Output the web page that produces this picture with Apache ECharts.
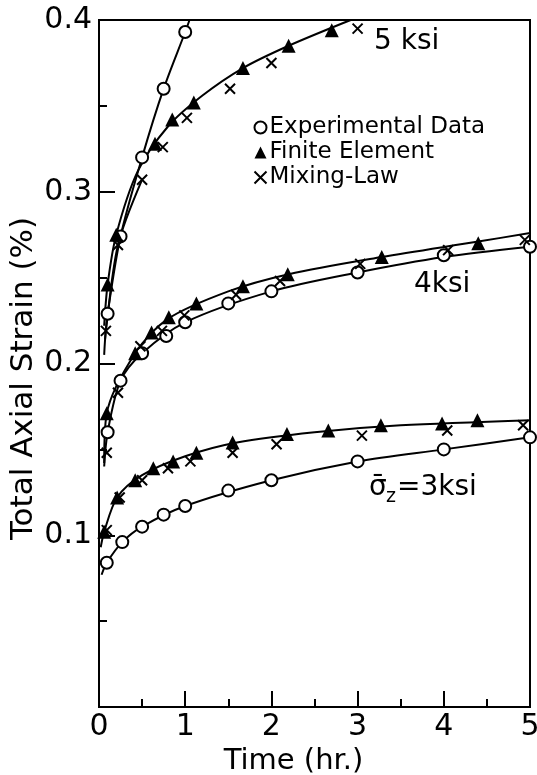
<!DOCTYPE html>
<html>
<head>
<meta charset="utf-8">
<script src="https://cdn.jsdelivr.net/npm/echarts@6/dist/echarts.min.js"></script>
<style>
  html, body { margin: 0; padding: 0; background: #fff; }
  #chart { width: 537px; height: 775px; }
</style>
</head>
<body>
<div id="chart"></div>
<script>
// time (hr.) / total axial strain (%) pairs
// 5 ksi
const exp5 = [[0.1, 0.229], [0.25, 0.274], [0.5, 0.320], [0.75, 0.360], [1.0, 0.393]];
const fe5 = [[0.1, 0.246], [0.2, 0.275], [0.65, 0.328], [0.85, 0.342], [1.1, 0.352], [1.67, 0.372], [2.2, 0.385], [2.7, 0.394]];
const ml5 = [[0.08, 0.219], [0.22, 0.269], [0.5, 0.307], [0.74, 0.326], [1.02, 0.343], [1.52, 0.360], [2.0, 0.375], [3.0, 0.395]];
// 4 ksi
const exp4 = [[0.1, 0.160], [0.25, 0.190], [0.5, 0.206], [0.78, 0.216], [1.0, 0.224], [1.5, 0.235], [2.0, 0.242], [3.0, 0.253], [4.0, 0.263], [5.0, 0.268]];
const fe4 = [[0.09, 0.171], [0.42, 0.206], [0.61, 0.218], [0.81, 0.227], [1.13, 0.235], [1.67, 0.245], [2.19, 0.252], [3.28, 0.262], [4.4, 0.270]];
const ml4 = [[0.09, 0.148], [0.22, 0.183], [0.48, 0.210], [0.73, 0.219], [0.99, 0.228], [1.59, 0.240], [2.1, 0.248], [3.03, 0.258], [4.05, 0.266], [4.94, 0.272]];
// 3 ksi
const exp3 = [[0.09, 0.084], [0.27, 0.096], [0.5, 0.105], [0.75, 0.112], [1.0, 0.117], [1.5, 0.126], [2.0, 0.132], [3.0, 0.143], [4.0, 0.150], [5.0, 0.157]];
const fe3 = [[0.06, 0.102], [0.21, 0.122], [0.42, 0.132], [0.63, 0.139], [0.86, 0.143], [1.13, 0.148], [1.55, 0.154], [2.18, 0.159], [2.66, 0.161], [3.27, 0.164], [3.98, 0.165], [4.39, 0.167]];
const ml3 = [[0.09, 0.103], [0.24, 0.122], [0.5, 0.132], [0.8, 0.139], [1.06, 0.143], [1.55, 0.148], [2.06, 0.153], [3.05, 0.158], [4.04, 0.161], [4.92, 0.164]];

// fitted curves (drawn lines)
const exp5Curve = [[0.07, 0.214], [0.1, 0.229], [0.25, 0.274], [0.5, 0.320], [0.75, 0.360], [1.0, 0.393], [1.05, 0.400]];
const fe5Curve = [[0.06, 0.222], [0.1, 0.246], [0.2, 0.275], [0.45, 0.312], [0.8, 0.338], [1.2, 0.356], [1.67, 0.372], [2.2, 0.385], [2.92, 0.400]];
const ml5Curve = [[0.06, 0.205], [0.08, 0.219], [0.22, 0.269], [0.5, 0.307]];
const exp4Curve = [[0.06, 0.140], [0.1, 0.160], [0.25, 0.190], [0.5, 0.206], [1.0, 0.224], [2.0, 0.242], [3.0, 0.253], [4.0, 0.262], [5.0, 0.268]];
const fe4Curve = [[0.06, 0.142], [0.09, 0.171], [0.42, 0.206], [0.8, 0.226], [1.5, 0.242], [2.2, 0.252], [3.28, 0.262], [4.4, 0.271], [5.0, 0.276]];
const exp3Curve = [[0.03, 0.077], [0.09, 0.084], [0.27, 0.096], [0.5, 0.105], [1.0, 0.117], [2.0, 0.132], [3.0, 0.143], [4.0, 0.150], [5.0, 0.157]];
const fe3Curve = [[0.02, 0.093], [0.06, 0.102], [0.21, 0.122], [0.5, 0.135], [1.0, 0.146], [1.6, 0.154], [2.5, 0.160], [3.5, 0.164], [5.0, 0.167]];

const xTicks = [0, 1, 2, 3, 4, 5];
const yTicks = [0.1, 0.2, 0.3, 0.4];

const FONT = 'DejaVu Sans';
const crossPath = 'path://M0,0L10,10M10,0L0,10';

function curve(pts) {
  return {
    type: 'line', data: pts,
    smooth: 0.3, showSymbol: false, silent: true,
    lineStyle: { color: '#000', width: 2 }, z: 2
  };
}
function marks(name, pts) {
  let s = { type: 'scatter', name: name, data: pts, z: 5 };
  if (name === 'Experimental Data') {
    s.symbol = 'circle'; s.symbolSize = 12;
    s.itemStyle = { color: '#fff', borderColor: '#000', borderWidth: 2, opacity: 1 };
  } else if (name === 'Finite Element') {
    s.symbol = 'triangle'; s.symbolSize = 14;
    s.itemStyle = { color: '#000', opacity: 1 };
  } else {
    s.symbol = crossPath; s.symbolSize = 10;
    s.itemStyle = { color: 'none', borderColor: '#000', borderWidth: 2, opacity: 1 };
  }
  return s;
}

let myChart = echarts.init(document.getElementById('chart'));
let option = {
  backgroundColor: '#fff',
  animation: false,
  grid: { left: 99, right: 7, top: 20, bottom: 68, containLabel: false, outerBoundsMode: 'none',
    show: true, borderColor: '#000', borderWidth: 2 },
  legend: {
    data: ['Experimental Data', 'Finite Element', 'Mixing-Law'],
    orient: 'vertical', left: 247, top: 111, itemGap: 2,
    itemWidth: 12, itemHeight: 12,
    textStyle: { fontFamily: FONT, fontSize: 23, color: '#000', padding: [0, 0, 0, -2] }
  },
  xAxis: {
    type: 'value', min: 0, max: 5, interval: 1,
    name: 'Time (hr.)', nameLocation: 'middle', nameGap: 38,
    nameTextStyle: { fontFamily: FONT, fontSize: 29, color: '#000', padding: [0, 42, 0, 0] },
    axisLine: { lineStyle: { color: '#000', width: 2 } },
    axisTick: { inside: true, length: 16, lineStyle: { color: '#000', width: 2 } },
    minorTick: { show: true, splitNumber: 2, length: 8, lineStyle: { color: '#000', width: 2 } },
    axisLabel: { fontFamily: FONT, fontSize: 30, color: '#000', margin: 5,
      customValues: xTicks, formatter: v => String(v) },
    splitLine: { show: false }
  },
  yAxis: {
    type: 'value', min: 0, max: 0.4, interval: 0.1,
    name: 'Total Axial Strain (%)', nameLocation: 'middle', nameGap: 60, nameMoveOverlap: false,
    nameTextStyle: { fontFamily: FONT, fontSize: 31, color: '#000', padding: [0, 30, 0, 0] },
    axisLine: { lineStyle: { color: '#000', width: 2 } },
    axisTick: { inside: true, length: 16, lineStyle: { color: '#000', width: 2 } },
    minorTick: { show: true, splitNumber: 2, length: 8, lineStyle: { color: '#000', width: 2 } },
    axisLabel: { fontFamily: FONT, fontSize: 30, color: '#000', margin: 7,
      formatter: v => (yTicks.some(t => Math.abs(t - v) < 1e-6) ? v.toFixed(1) : '') },
    splitLine: { show: false }
  },
  graphic: [
    { type: 'text', left: 374, top: 28, style: { text: '5 ksi', font: '28px "DejaVu Sans"', fill: '#000' } },
    { type: 'text', left: 414, top: 271, style: { text: '4ksi', font: '28px "DejaVu Sans"', fill: '#000' } },
    { type: 'text', left: 369, top: 474, style: { text: 'σ\u0304', font: '28px "DejaVu Sans"', fill: '#000' } },
    { type: 'text', left: 386, top: 488, style: { text: 'z', font: '19px "DejaVu Sans"', fill: '#000' } },
    { type: 'text', left: 397, top: 474, style: { text: '=3ksi', font: '28px "DejaVu Sans"', fill: '#000' } }
  ],
  series: [
    curve(exp5Curve), curve(fe5Curve), curve(ml5Curve),
    curve(exp4Curve), curve(fe4Curve),
    curve(exp3Curve), curve(fe3Curve),
    marks('Experimental Data', exp5), marks('Finite Element', fe5), marks('Mixing-Law', ml5),
    marks('Experimental Data', exp4), marks('Finite Element', fe4), marks('Mixing-Law', ml4),
    marks('Experimental Data', exp3), marks('Finite Element', fe3), marks('Mixing-Law', ml3)
  ]
};
myChart.setOption(option);
</script>
</body>
</html>
